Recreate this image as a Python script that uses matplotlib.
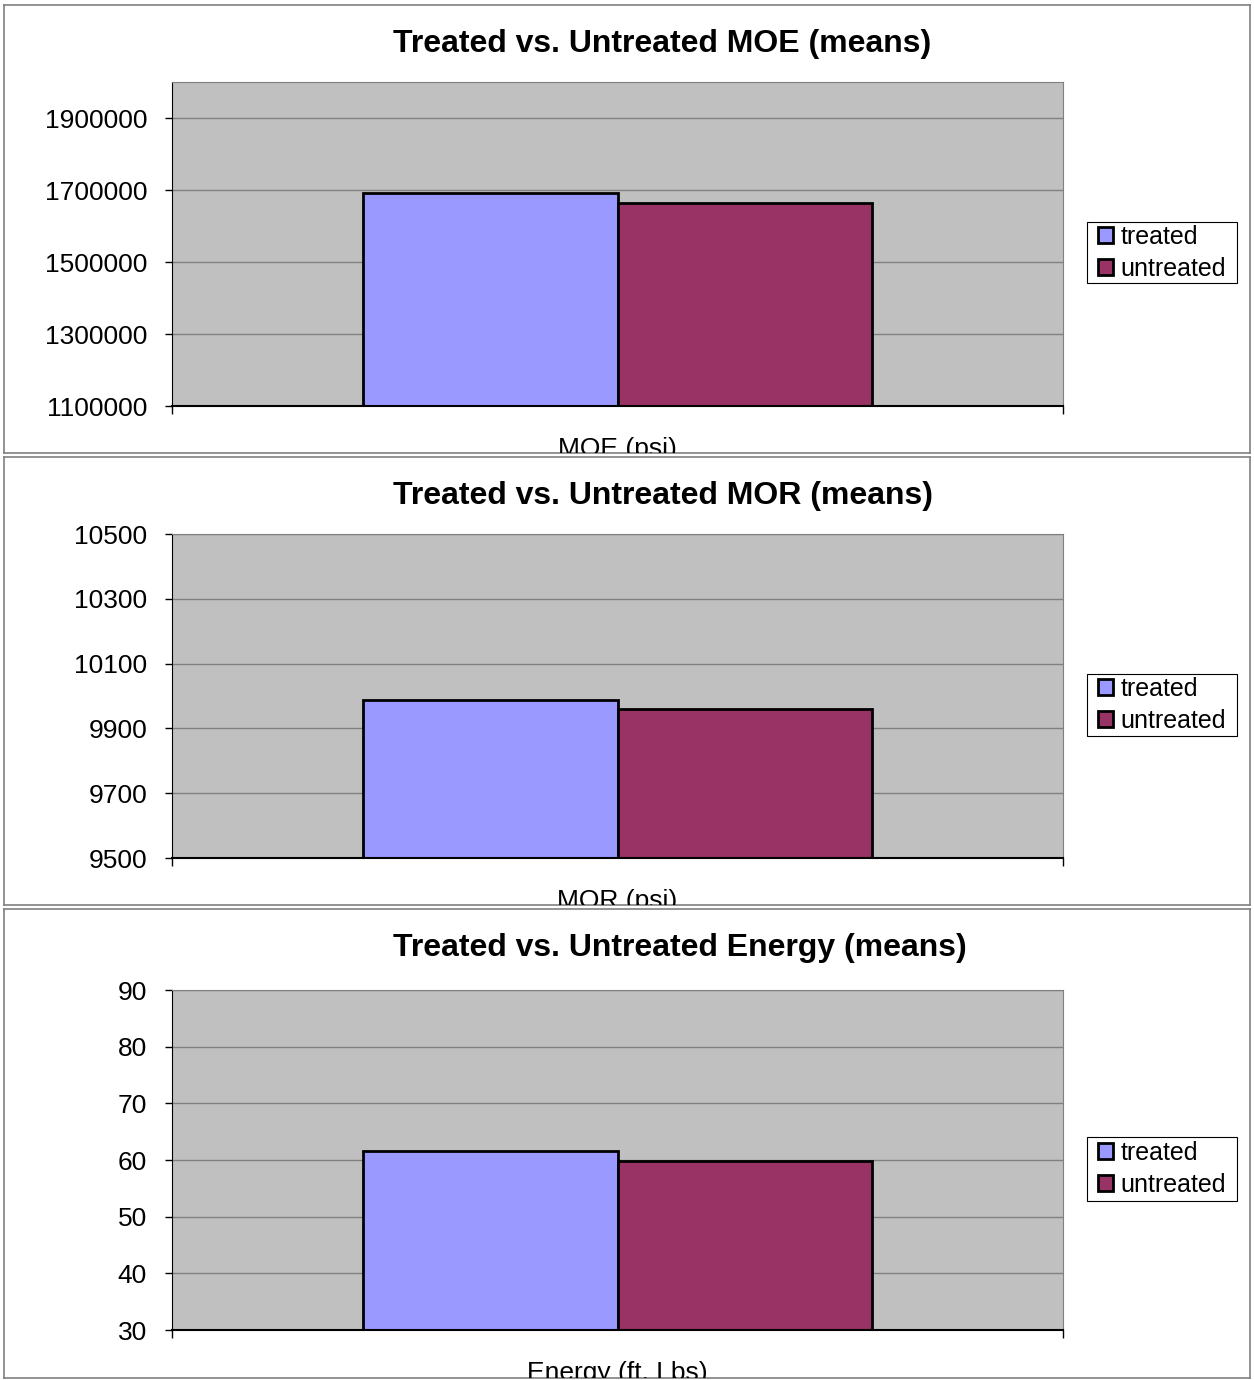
import matplotlib
matplotlib.use("Agg")
import matplotlib.pyplot as plt
from matplotlib.patches import Rectangle

plt.rcParams["font.family"] = ["Liberation Sans", "DejaVu Sans"]

# values
titles = ["Treated vs. Untreated MOE (means)",
          "Treated vs. Untreated MOR (means)",
          "Treated vs. Untreated Energy (means)"]
xlabels = ["MOE (psi)", "MOR (psi)", "Energy (ft. Lbs)"]
series = ["treated", "untreated"]
treated = [1692500, 9988, 61.6]
untreated = [1663000, 9961, 59.8]
ylims = [(1100000, 2000000), (9500, 10500), (30, 90)]
yticks = [[1100000, 1300000, 1500000, 1700000, 1900000],
          [9500, 9700, 9900, 10100, 10300, 10500],
          [30, 40, 50, 60, 70, 80, 90]]

colors = ["#9999FF", "#993366"]
W, H = 1254, 1380

# pixel boxes: panel (x0, y0, x1, y1), plot area (y0, y1), title centre, legend box
panels = [(4, 5, 1250, 453), (4, 457, 1250, 905), (4, 909, 1250, 1378)]
plot_y = [(82, 406), (534, 858), (990, 1330)]
title_y = [44, 496, 948]
title_x = [662, 663, 680]
legend_box = [(1087, 222, 1237, 283), (1087, 674, 1237, 736), (1087, 1137, 1237, 1201)]
label_base = [456, 908, 1380]

fig = plt.figure(figsize=(W / 100, H / 100), dpi=100)

for i in range(3):
    px0, py0, px1, py1 = panels[i]
    # outer chart frame, also used to clip the cut-off axis label
    outer = fig.add_axes([px0 / W, 1 - py1 / H, (px1 - px0) / W, (py1 - py0) / H])
    outer.set_xlim(px0, px1)
    outer.set_ylim(py1, py0)
    outer.set_xticks([])
    outer.set_yticks([])
    for s in outer.spines.values():
        s.set_color("#808080")
        s.set_linewidth(1.2)
    outer.set_zorder(0)

    outer.text(title_x[i], title_y[i], titles[i], ha="center", va="center",
               fontsize=23, fontweight="bold")
    outer.text(617, label_base[i], xlabels[i], ha="center", va="baseline",
               fontsize=19, clip_on=True)

    lx0, ly0, lx1, ly1 = legend_box[i]
    outer.add_patch(Rectangle((lx0, ly0), lx1 - lx0, ly1 - ly0, facecolor="white",
                              edgecolor="black", linewidth=0.8, zorder=5))

    y0, y1 = plot_y[i]
    ax = fig.add_axes([172 / W, 1 - y1 / H, 891 / W, (y1 - y0) / H])
    ax.set_zorder(1)
    ax.set_facecolor("#C0C0C0")
    ax.bar(-0.143, treated[i], width=0.286, bottom=0, color=colors[0],
           edgecolor="black", linewidth=2, label=series[0], zorder=3)
    ax.bar(0.143, untreated[i], width=0.286, bottom=0, color=colors[1],
           edgecolor="black", linewidth=2, label=series[1], zorder=3)
    ax.set_xlim(-0.5, 0.5)
    ax.set_ylim(*ylims[i])
    ax.set_yticks(yticks[i])
    ax.set_yticklabels([str(t) for t in yticks[i]])
    ax.set_xticks([-0.5, 0.5])
    ax.set_xticklabels(["", ""])
    ax.tick_params(axis="y", length=5, width=1, pad=13, labelsize=19)
    ax.tick_params(axis="x", length=6, width=1)
    ax.yaxis.grid(True, color="#808080", linewidth=1)
    ax.set_axisbelow(True)
    ax.spines["left"].set_color("black")
    ax.spines["bottom"].set_color("black")
    ax.spines["bottom"].set_linewidth(1.5)
    ax.spines["bottom"].set_zorder(4)
    ax.spines["top"].set_color("#808080")
    ax.spines["right"].set_color("#808080")

    leg = ax.legend(loc="center", bbox_to_anchor=((lx0 + lx1) / 2 / W, 1 - (ly0 + ly1) / 2 / H),
                    bbox_transform=fig.transFigure, borderaxespad=0, fontsize=18,
                    handlelength=0.6, handleheight=0.6, handletextpad=0.3,
                    labelspacing=0.32, borderpad=0, frameon=False)

fig.savefig("out.png", dpi=100, facecolor="white")
